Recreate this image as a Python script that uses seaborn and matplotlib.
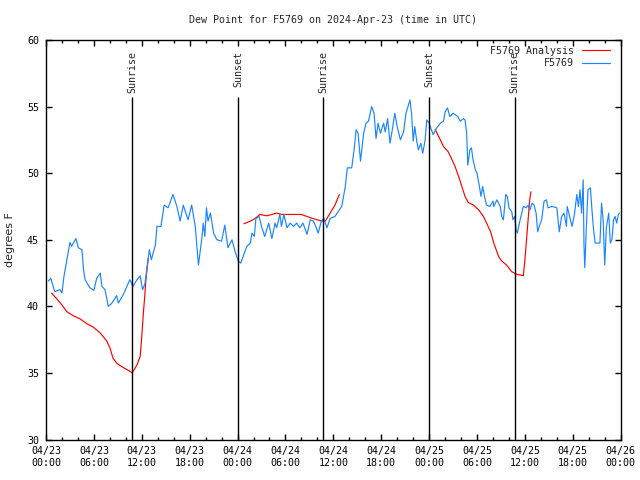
import numpy as np
import pandas as pd
import matplotlib
matplotlib.use("Agg")
import matplotlib.pyplot as plt
import matplotlib.dates as mdates
import seaborn as sns

# tempos em horas depois de 2024-04-23 00:00 UTC
obs_hours = [0.3, 0.6, 1.1, 1.75, 2.0, 2.25, 2.5, 3.0, 3.2, 3.75, 4.05, 4.5, 4.7, 4.9, 5.5, 6.0,
             6.35, 6.8, 7.0, 7.4, 7.8, 8.2, 8.85, 9.06, 9.7, 10.5, 10.9, 11.4, 11.8, 12.1, 12.4,
             12.7, 12.95, 13.2, 13.7, 13.9, 14.4, 14.8, 15.3, 15.9, 16.4, 16.8, 17.2, 17.8, 18.25,
             18.7, 19.1, 19.5, 19.7, 19.9, 20.1, 20.3, 20.6, 21.0, 21.4, 22.0, 22.4, 22.8, 23.3,
             23.7, 24.1, 24.4, 24.7, 25.15, 25.6, 25.8, 26.1, 26.3, 26.7, 27.0, 27.4, 27.9, 28.3,
             28.7, 28.9, 29.3, 29.5, 29.8, 30.2, 30.6, 31.0, 31.4, 31.8, 32.2, 32.7, 33.1, 33.5,
             33.8, 34.1, 34.5, 34.8, 35.2, 35.6, 36.2, 36.6, 37.05, 37.5, 37.75, 38.3, 38.6, 38.85,
             39.1, 39.4, 39.8, 40.1, 40.4, 40.8, 41.1, 41.35, 41.6, 41.9, 42.3, 42.5, 42.8, 43.1,
             43.45, 43.7, 44.0, 44.4, 44.8, 45.1, 45.4, 45.6, 45.8, 46.0, 46.2, 46.45, 46.65, 46.95,
             47.2, 47.5, 47.7, 48.0, 48.5, 48.95, 49.4, 49.8, 50.0, 50.3, 50.6, 51.0, 51.6, 51.9,
             52.3, 52.5, 52.7, 52.85, 53.1, 53.3, 53.5, 53.8, 54.0, 54.3, 54.5, 54.7, 55.0, 55.2,
             55.6, 56.0, 56.1, 56.5, 56.9, 57.1, 57.3, 57.6, 57.8, 58.0, 58.35, 58.5, 58.7, 58.9,
             59.05, 59.4, 59.8, 60.15, 60.4, 60.65, 60.9, 61.15, 61.4, 61.6, 61.85, 62.1, 62.4,
             62.7, 62.9, 63.4, 64.0, 64.3, 64.6, 64.9, 65.2, 65.3, 65.6, 65.9, 66.2, 66.5, 66.7,
             66.9, 67.1, 67.3, 67.4, 67.5, 67.7, 67.9, 68.2, 68.4, 68.6, 68.8, 69.4, 69.6, 69.8,
             70.0, 70.2, 70.5, 70.7, 70.9, 71.1, 71.3, 71.5, 71.7, 71.85]
obs_dewpt = [41.9, 42.1, 41.1, 41.25, 41.0, 42.25, 43.1, 44.8, 44.5, 45.1, 44.4, 44.25, 42.75, 42.0,
             41.4, 41.2, 42.1, 42.5, 41.5, 41.25, 40.0, 40.2, 40.8, 40.25, 40.9, 42.0, 41.5, 42.0,
             42.3, 41.25, 41.7, 43.1, 44.25, 43.5, 44.6, 46.0, 46.0, 47.6, 47.4, 48.4, 47.5, 46.4,
             47.6, 46.5, 47.6, 46.0, 43.1, 45.0, 46.25, 45.25, 47.4, 46.4, 47.0, 45.5, 45.0, 44.9,
             46.1, 44.4, 45.0, 44.1, 43.4, 43.25, 43.75, 44.5, 44.75, 45.5, 45.25, 46.6, 46.75,
             46.0, 45.25, 46.25, 45.1, 46.25, 45.9, 46.9, 46.0, 46.9, 45.9, 46.25, 46.0, 46.25,
             45.9, 46.25, 45.4, 46.5, 46.4, 46.0, 45.5, 46.4, 46.6, 45.9, 46.6, 46.75, 47.1, 47.5,
             49.0, 50.4, 50.4, 51.75, 53.25, 53.0, 50.9, 53.0, 53.75, 53.9, 55.0, 54.5, 52.6,
             53.75, 53.0, 53.75, 53.1, 54.1, 52.25, 53.5, 54.5, 53.5, 52.5, 53.1, 54.5, 55.1, 55.5,
             54.5, 52.4, 53.5, 52.4, 51.75, 52.25, 51.5, 52.5, 54.0, 53.75, 52.9, 53.4, 53.75,
             53.9, 54.6, 54.9, 54.25, 54.5, 54.25, 53.9, 54.1, 54.0, 53.0, 50.6, 51.75, 51.9, 51.0,
             50.25, 50.0, 49.0, 48.25, 49.0, 48.1, 47.6, 47.5, 47.9, 47.5, 48.0, 47.5, 46.75, 46.5,
             48.4, 48.25, 47.4, 47.1, 46.5, 46.75, 45.75, 45.5, 46.5, 47.5, 47.4, 47.6, 47.25,
             47.75, 47.6, 47.0, 45.6, 46.1, 46.5, 47.9, 48.0, 47.4, 47.5, 47.4, 45.6, 46.75, 47.0,
             46.0, 47.5, 46.75, 46.0, 46.9, 48.4, 47.5, 48.75, 47.0, 49.5, 44.6, 42.9, 46.0, 48.75,
             48.9, 47.25, 45.75, 44.75, 44.75, 47.75, 46.5, 43.1, 45.9, 47.0, 44.75, 45.0, 46.5,
             46.75, 46.25, 46.9, 47.0]

# análise: NaN marca as falhas da série
ana_hours = [0.7, 1.3, 2.0, 2.6, 3.4, 4.3, 5.1, 5.9, 6.8, 7.6, 8.0, 8.4, 8.9, 9.7, 10.3, 10.8, 11.4,
             11.8, 12.0, 12.2, 12.4, 12.5, 12.8, 18.0,
             24.8, 25.6, 26.2, 26.8, 27.65, 28.3, 28.9, 29.5, 30.6, 32.0, 32.9, 33.7, 34.55, 35.0,
             35.6, 36.2, 36.75, 42.0,
             48.75, 49.4, 49.8, 50.4, 50.8, 51.25, 51.7, 52.1, 52.5, 52.9, 53.55, 54.2, 54.8, 55.2,
             55.7, 56.1, 56.7, 57.1, 57.7, 58.35, 59.0, 59.8, 60.0, 60.2, 60.4, 60.6, 60.75]
ana_dewpt = [41.0, 40.6, 40.1, 39.6, 39.3, 39.05, 38.7, 38.45, 38.0, 37.4, 36.9, 36.1, 35.7, 35.4,
             35.2, 35.0, 35.6, 36.25, 37.75, 39.5, 41.0, 41.9, 43.6, np.nan,
             46.2, 46.4, 46.6, 46.9, 46.8, 46.9, 47.0, 46.9, 46.9, 46.9, 46.7, 46.55, 46.4, 46.4,
             47.0, 47.6, 48.4, np.nan,
             53.3, 52.5, 52.0, 51.6, 51.1, 50.5, 49.75, 49.0, 48.25, 47.8, 47.6, 47.25, 46.75,
             46.25, 45.6, 44.75, 43.75, 43.4, 43.1, 42.6, 42.4, 42.3, 43.5, 45.0, 46.5, 48.0, 48.6]

sunrise_hours = [10.78, 34.75, 58.73]
sunset_hours = [24.05, 48.03]

start = pd.Timestamp("2024-04-23 00:00")


def to_time(h):
    return start + pd.to_timedelta(np.asarray(h, dtype=float), unit="h")


obs = pd.DataFrame({"time": to_time(obs_hours), "dewpt": obs_dewpt})
ana = pd.DataFrame({"time": to_time(ana_hours), "dewpt": ana_dewpt})
ana["seg"] = ana["dewpt"].isna().cumsum()
ana = ana.dropna()

sns.set_theme(style="ticks")
plt.rcParams["font.family"] = ["DejaVu Sans Mono"]
fs = 7.2

fig = plt.figure(figsize=(6.4, 4.8), dpi=100)
ax = fig.add_axes([46 / 640, 1 - 439.5 / 480, (620.7 - 46) / 640, (439.5 - 40) / 480])

# série da análise (vermelho), em pedaços
for i, (seg, d) in enumerate(ana.groupby("seg")):
    sns.lineplot(data=d, x="time", y="dewpt", color="#ff0000", lw=0.85, estimator=None,
                 ax=ax, label="F5769 Analysis" if i == 0 else None)

# observações (azul)
sns.lineplot(data=obs, x="time", y="dewpt", color="#1a85ff", lw=0.85, estimator=None,
             ax=ax, label="F5769")

# nascer e pôr do sol
for name, hours in [("Sunrise", sunrise_hours), ("Sunset", sunset_hours)]:
    for t in to_time(hours):
        ax.vlines(t, 30, 55.7, color="black", lw=1, zorder=3)
        ax.text(t, 59.2, name, rotation=90, ha="center", va="top", fontsize=fs)

ax.set_ylim(30, 60)
ax.set_xlim(start, start + pd.Timedelta(hours=72))
ax.set_yticks(range(30, 61, 5))
ax.xaxis.set_major_locator(mdates.HourLocator(byhour=[0, 6, 12, 18]))
ax.xaxis.set_minor_locator(mdates.HourLocator(byhour=range(0, 24, 2)))
ax.xaxis.set_major_formatter(mdates.DateFormatter("%m/%d\n%H:%M"))
ax.tick_params(which="both", direction="in", top=True, right=True, color="black",
               labelsize=fs, labelcolor="black", width=1)
ax.tick_params(which="major", length=4.5, pad=5)
ax.tick_params(which="minor", length=2.5)
for sp in ax.spines.values():
    sp.set_color("black")
    sp.set_linewidth(1)
ax.set_xlabel("")
ax.set_ylabel("")

handles, labels = ax.get_legend_handles_labels()
ax.legend(handles, labels, loc="upper right", bbox_to_anchor=(610 / 640, 1 - 45.5 / 480),
          bbox_transform=fig.transFigure, frameon=False, markerfirst=False,
          handlelength=2.8, handletextpad=0.8, borderpad=0, borderaxespad=0,
          labelspacing=0.3, fontsize=fs)

fig.text(333.4 / 640, 1 - 20 / 480, "Dew Point for F5769 on 2024-Apr-23 (time in UTC)",
         ha="center", va="center", fontsize=fs)
fig.text(10 / 640, 1 - 239.75 / 480, "degrees F", rotation=90, ha="center", va="center",
         fontsize=8, family="DejaVu Sans")

fig.savefig("out.png", dpi=100)
